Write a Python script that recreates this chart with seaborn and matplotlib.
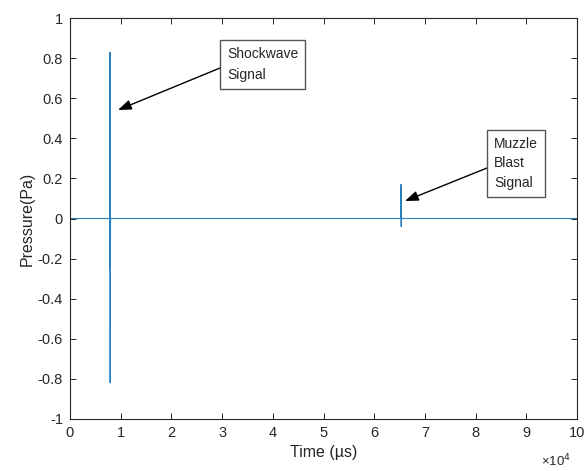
import numpy as np
import pandas as pd
import matplotlib
matplotlib.use("Agg")
import matplotlib.pyplot as plt
import seaborn as sns
from matplotlib.ticker import FuncFormatter

time_us = [0, 7850, 7880, 7900, 7920, 7940, 7960, 8000,
           65250, 65280, 65300, 65320, 65350, 100000]
pressure = [0, 0, 0.35, 0.83, -0.82, 0.35, -0.25, 0,
            0, 0.05, 0.17, -0.04, 0, 0]

x_ticks = [0, 10000, 20000, 30000, 40000, 50000, 60000, 70000, 80000, 90000, 100000]
y_ticks = [-1, -0.8, -0.6, -0.4, -0.2, 0, 0.2, 0.4, 0.6, 0.8, 1]
y_labels = ["-1", "-0.8", "-0.6", "-0.4", "-0.2", "0", "0.2", "0.4", "0.6", "0.8", "1"]

df = pd.DataFrame({"time": time_us, "pressure": pressure})

sns.set_style("ticks")
plt.rcParams["font.family"] = ["Liberation Sans", "DejaVu Sans"]
plt.rcParams["xtick.direction"] = "in"
plt.rcParams["ytick.direction"] = "in"

fig = plt.figure(figsize=(5.87, 4.71), dpi=100)
ax = fig.add_axes([70 / 587, 52 / 471, 507 / 587, 401 / 471])

sns.lineplot(data=df, x="time", y="pressure", ax=ax, sort=False,
             estimator=None, color="#2a80c0", linewidth=0.8)

ax.set_xlim(0, 100000)
ax.set_ylim(-1, 1)
ax.set_xticks(x_ticks)
ax.set_yticks(y_ticks)
ax.set_yticklabels(y_labels)
ax.xaxis.set_major_formatter(FuncFormatter(lambda v, p: f"{v / 1e4:g}"))
ax.tick_params(top=True, right=True, length=4, width=0.7,
               labelsize=10.5, colors="#262626", pad=5)
for s in ax.spines.values():
    s.set_visible(True)
    s.set_color("#262626")
    s.set_linewidth(0.8)

ax.set_xlabel("Time (\u00b5s)", fontsize=11.5, color="#262626", labelpad=4)
ax.set_ylabel("Pressure(Pa)", fontsize=11.5, color="#262626", labelpad=2)
fig.text(541 / 587, 1 - 461 / 471, "\u00d710$^{4}$", fontsize=9.5,
         color="#262626", ha="left", va="center")

box = dict(boxstyle="square,pad=0.5", fc="white", ec="#555555", lw=1.0)
fig.text(227 / 587, 1 - 47 / 471, "Shockwave\nSignal", fontsize=10,
         ha="left", va="top", bbox=box, linespacing=1.6)
fig.text(494 / 587, 1 - 137 / 471, "Muzzle\nBlast\nSignal", fontsize=10,
         ha="left", va="top", bbox=box, linespacing=1.5)

arrow = dict(arrowstyle="-|>,head_length=0.8,head_width=0.3", color="black",
             lw=1.0, shrinkA=0, shrinkB=0)
ax.annotate("", xy=(118, 471 - 110), xytext=(220, 471 - 68),
            xycoords="figure pixels", textcoords="figure pixels",
            arrowprops=arrow)
ax.annotate("", xy=(405, 471 - 201), xytext=(487, 471 - 168),
            xycoords="figure pixels", textcoords="figure pixels",
            arrowprops=arrow)

fig.savefig("out.png", dpi=100)
